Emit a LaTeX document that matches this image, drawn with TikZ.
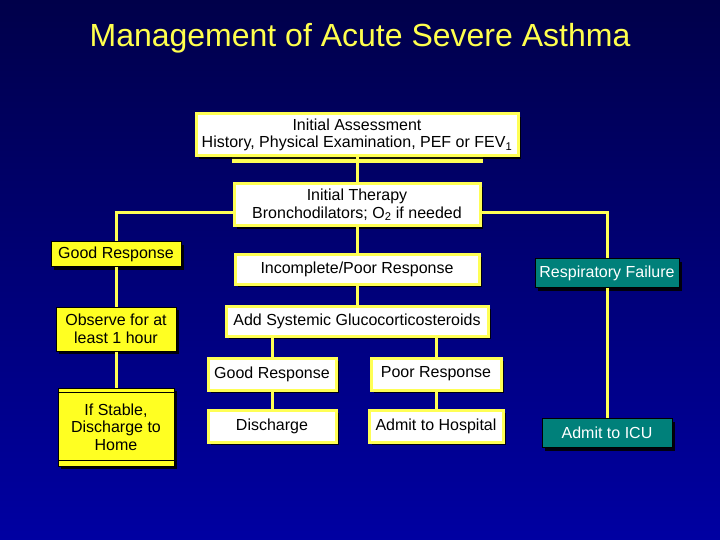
\documentclass[tikz,border=0pt]{standalone}
\usepackage{fontspec}
\setmainfont{Liberation Sans}
\usepackage{tikz}
\usetikzlibrary{positioning,shadows}
\definecolor{navytop}{HTML}{00004A}
\definecolor{navybot}{HTML}{0000A2}
\definecolor{titleyellow}{HTML}{FFFF4D}
\definecolor{boxyellow}{HTML}{FFFF55}
\definecolor{fillyellow}{HTML}{FFFF22}
\definecolor{icuteal}{HTML}{00807A}
\tikzset{
    base/.style={rectangle, align=center, inner sep=2pt,
        font=\fontsize{16}{17.5}\selectfont,
        drop shadow={shadow xshift=3pt, shadow yshift=-3pt, fill=black, opacity=.9}},
    wbox/.style={base, draw=boxyellow, line width=3pt, fill=white, text=black},
    ybox/.style={base, draw=black, line width=1pt, fill=fillyellow, text=black},
    tbox/.style={base, draw=black, line width=1pt, fill=icuteal, text=white},
    link/.style={draw=boxyellow, line width=3pt}
}

\begin{document}
\begin{tikzpicture}[x=1pt, y=-1pt]
    \shade[top color=navytop, bottom color=navybot] (0,0) rectangle (720,540);
    \useasboundingbox (0,0) rectangle (720,540);
    \node[text=titleyellow, font=\fontsize{32}{36}\selectfont] (title) at (360,38)
        {Management of Acute Severe Asthma};
    \fill[boxyellow] (232,154) rectangle (483,163);
    \node[wbox, minimum width=322pt, minimum height=42pt] (assess) at (357,135)
        {Initial Assessment\\History, Physical Examination, PEF or FEV\textsubscript{1}};
    \node[wbox, minimum width=246pt, minimum height=42pt] (therapy) at (357,205)
        {Initial Therapy\\Bronchodilators; O\textsubscript{2} if needed};
    \node[ybox, minimum width=130pt, minimum height=25pt] (good-l) at (116,254) {Good Response};
    \node[ybox, minimum width=120pt, minimum height=44pt] (observe) at (116,329)
        {Observe for at\\least 1 hour};
    \node[ybox, minimum width=116pt, minimum height=78pt] (stable) at (116,427)
        {If Stable,\\Discharge to\\Home};
    \node[wbox, minimum width=244pt, minimum height=30pt] (poor-in) at (357,269)
        {Incomplete/Poor Response};
    \node[wbox, minimum width=262pt, minimum height=30pt] (steroid) at (357,321)
        {Add Systemic Glucocorticosteroids};
    \node[wbox, minimum width=128pt, minimum height=32pt] (good-m) at (272,374) {Good Response};
    \node[wbox, minimum width=130pt, minimum height=32pt] (poor-m) at (436,374) {Poor Response};
    \node[wbox, minimum width=128pt, minimum height=32pt] (disch) at (272,426) {Discharge};
    \node[wbox, minimum width=134pt, minimum height=32pt] (hosp) at (436,426) {Admit to Hospital};
    \node[tbox, minimum width=144pt, minimum height=29pt] (resp) at (607,273) {Respiratory Failure};
    \node[tbox, minimum width=130pt, minimum height=29pt] (icu) at (607,433) {Admit to ICU};
    \draw[black, line width=1.5pt] ([yshift=-5pt]stable.north west) -- ([yshift=-5pt]stable.north east)
        ([yshift=6pt]stable.south west) -- ([yshift=6pt]stable.south east);
    \path[link] (assess.south) -- (therapy.north)
        ([yshift=-8pt]therapy.west) -| (good-l.north)
        ([yshift=-8pt]therapy.east) -| (resp.north)
        (therapy.south) -- (poor-in.north)
        (good-l) -- (observe) (observe) -- (stable)
        (poor-in) -- (steroid)
        (good-m.north |- steroid.south) -- (good-m.north)
        (poor-m.north |- steroid.south) -- (poor-m.north)
        (good-m) -- (disch) (poor-m) -- (hosp)
        (resp) -- (icu);
\end{tikzpicture}
\end{document}
